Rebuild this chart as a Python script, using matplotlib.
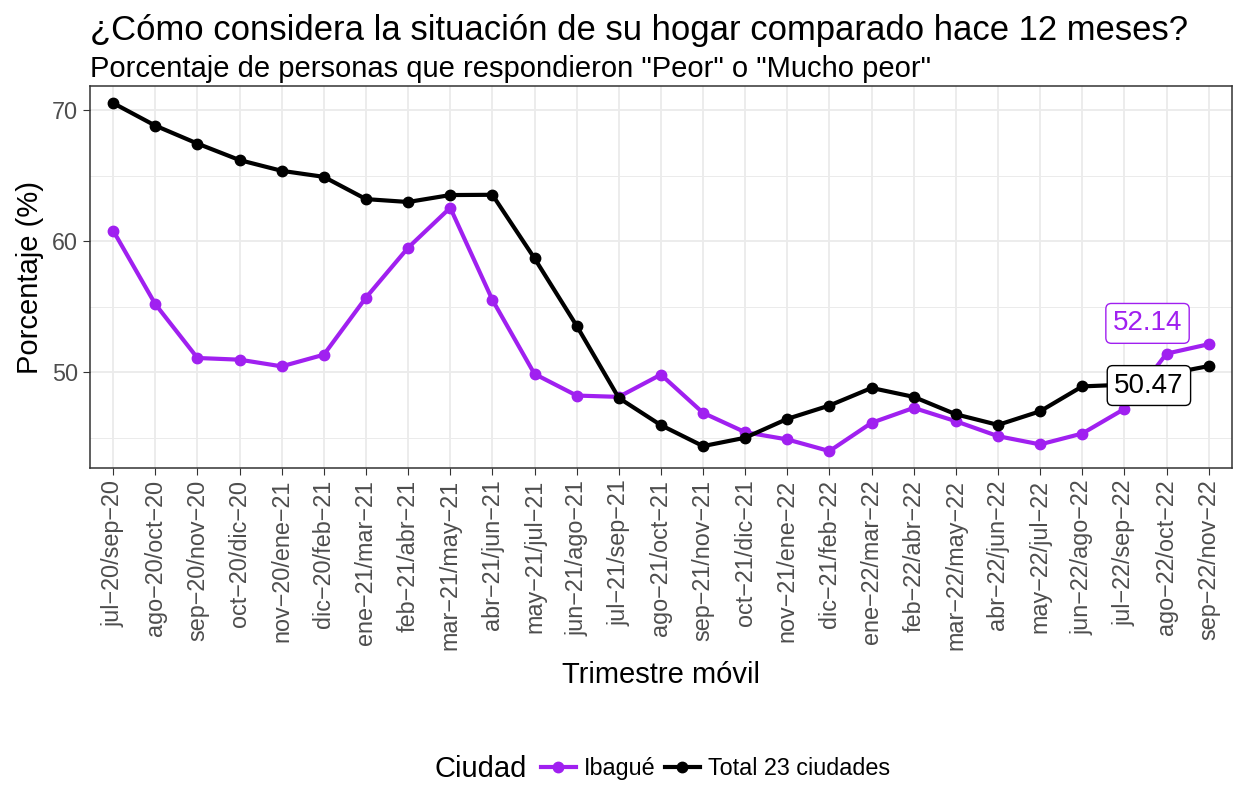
import matplotlib.pyplot as plt
from matplotlib.ticker import MultipleLocator
from matplotlib.offsetbox import HPacker

plt.rcParams['font.family'] = ['Liberation Sans', 'DejaVu Sans']

# trimestres moviles
trimestres = [
    "jul-20/sep-20", "ago-20/oct-20", "sep-20/nov-20", "oct-20/dic-20",
    "nov-20/ene-21", "dic-20/feb-21", "ene-21/mar-21", "feb-21/abr-21",
    "mar-21/may-21", "abr-21/jun-21", "may-21/jul-21", "jun-21/ago-21",
    "jul-21/sep-21", "ago-21/oct-21", "sep-21/nov-21", "oct-21/dic-21",
    "nov-21/ene-22", "dic-21/feb-22", "ene-22/mar-22", "feb-22/abr-22",
    "mar-22/may-22", "abr-22/jun-22", "may-22/jul-22", "jun-22/ago-22",
    "jul-22/sep-22", "ago-22/oct-22", "sep-22/nov-22",
]
ibague = [60.81, 55.20, 51.09, 50.96, 50.45, 51.34, 55.70, 59.51, 62.56,
          55.53, 49.87, 48.22, 48.12, 49.82, 46.90, 45.42, 44.87, 43.98,
          46.14, 47.28, 46.26, 45.12, 44.49, 45.32, 47.20, 51.42, 52.14]
total = [70.55, 68.83, 67.46, 66.20, 65.38, 64.92, 63.22, 63.00, 63.53,
         63.55, 58.70, 53.55, 48.04, 45.96, 44.36, 45.00, 46.44, 47.46,
         48.80, 48.12, 46.79, 45.98, 47.02, 48.92, 49.05, 49.85, 50.47]

purple = "#A020F0"
base = 21
x = list(range(len(trimestres)))

fig = plt.figure(figsize=(12.38, 7.85), dpi=100)
ax = fig.add_axes([0.0727, 0.404, 0.9223, 0.486])

ax.plot(x, ibague, color=purple, lw=3.0, marker="o", ms=7.5, label="Ibagué", zorder=3)
ax.plot(x, total, color="black", lw=3.0, marker="o", ms=7.5, label="Total 23 ciudades", zorder=3)

# etiquetas del ultimo valor
ax.annotate(f"{ibague[-1]:.2f}", xy=(x[-1], ibague[-1]), xytext=(-44, 15),
            textcoords="offset points", ha="center", va="center", fontsize=base * 0.95,
            color=purple, zorder=5,
            bbox=dict(boxstyle="round,pad=0.25,rounding_size=0.2", fc="white", ec=purple, lw=1))
ax.annotate(f"{total[-1]:.2f}", xy=(x[-1], total[-1]), xytext=(-43, -14),
            textcoords="offset points", ha="center", va="center", fontsize=base * 0.95,
            color="black", zorder=5,
            bbox=dict(boxstyle="round,pad=0.25,rounding_size=0.2", fc="white", ec="black", lw=1))

ax.set_xlim(-0.55, len(x) - 1 + 0.55)
ax.set_ylim(42.7, 71.83)
ax.set_xticks(x)
ax.set_xticklabels([t.replace("-", "\u2212") for t in trimestres], rotation=90,
                   fontsize=base * 0.8, color="#4D4D4D")
ax.yaxis.set_major_locator(MultipleLocator(10))
ax.yaxis.set_minor_locator(MultipleLocator(5))
ax.tick_params(axis="y", labelsize=base * 0.8, labelcolor="#4D4D4D", color="#333333", length=5)
ax.tick_params(axis="x", color="#333333", length=5)
ax.tick_params(axis="y", which="minor", length=0)

ax.grid(True, which="major", color="#EBEBEB", lw=1.3)
ax.grid(True, which="minor", axis="y", color="#EBEBEB", lw=0.7)
ax.set_axisbelow(True)
for s in ax.spines.values():
    s.set_color("#333333")
    s.set_linewidth(1.1)

ax.set_ylabel("Porcentaje (%)", fontsize=base, labelpad=6)
ax.set_xlabel("Trimestre móvil", fontsize=base, labelpad=8)

fig.text(0.0727, 0.949, "¿Cómo considera la situación de su hogar comparado hace 12 meses?",
         fontsize=24.9)
fig.text(0.0727, 0.902, 'Porcentaje de personas que respondieron "Peor" o "Mucho peor"',
         fontsize=base)

leg = fig.legend(loc="lower center", bbox_to_anchor=(0.535, -0.012), ncol=2,
                 title="Ciudad", frameon=False, fontsize=base * 0.8, title_fontsize=base,
                 handlelength=1.5, handletextpad=0.35, columnspacing=0.4, borderpad=0)
# titulo a la izquierda de las entradas
box = leg._legend_box
box._children = [HPacker(children=box.get_children(), align="center", pad=0, sep=10)]

fig.savefig("out.png", dpi=100)
